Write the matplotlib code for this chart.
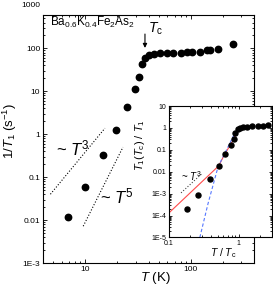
import matplotlib
matplotlib.use("Agg")
import matplotlib.pyplot as plt
import matplotlib.ticker as ticker
import matplotlib.transforms as transforms
import numpy as np

plt.rcParams['font.family'] = 'Liberation Sans'
plt.rcParams['mathtext.fontset'] = 'custom'
plt.rcParams['mathtext.rm'] = 'Liberation Sans'
plt.rcParams['mathtext.it'] = 'Liberation Sans:italic'
plt.rcParams['mathtext.bf'] = 'Liberation Sans:bold'

# main panel: 1/T1 vs T
temp = [6.9, 10.0, 14.8, 19.6, 24.7, 29.6, 32.5, 34.3, 36.8, 40.4, 44.8, 51, 59.8,
        68, 80, 91, 101.6, 122, 141, 151, 181, 250]
rate = [0.0117, 0.058, 0.325, 1.24, 4.2, 11.4, 21.2, 44, 61, 69, 75, 79.5, 79.5,
        79.5, 79.5, 82, 82, 82, 90, 93, 98, 128]

# power law guides
t3_temp = [4.7, 15.4]
t3_rate = [0.04, 1.38]
t5_temp = [9.6, 22.8]
t5_rate = [0.0072, 0.50]

tc = 36.8
main_yticks = [1e-3, 0.01, 0.1, 1, 10, 100]
main_ylabels = ['1E-3', '0.01', '0.1', '1', '10', '100']

# inset: normalised rate vs T/Tc
t_ratio = [0.179, 0.257, 0.385, 0.518, 0.646, 0.786, 0.848, 0.897, 0.977, 1.03,
           1.15, 1.31, 1.57, 1.89, 2.27, 2.68]
norm_rate = [1.96e-4, 8.5e-4, 4.6e-3, 0.0187, 0.064, 0.165, 0.31, 0.565, 0.86, 0.96,
             1.07, 1.13, 1.2, 1.22, 1.26, 1.31]
red_x = [0.1, 0.518, 0.63, 0.786, 0.927, 1.03, 1.1]
red_y = [1.33e-4, 0.0187, 0.064, 0.197, 0.565, 0.96, 1.05]
blue_x = [0.277, 0.364, 0.506, 0.667, 0.877, 1.0]
blue_y = [1e-5, 3.6e-4, 0.0168, 0.0975, 0.565, 1.0]
inset_t3_x = [0.149, 0.299]
inset_t3_y = [1.09e-3, 8.4e-3]

inset_yticks = [1e-5, 1e-4, 1e-3, 0.01, 0.1, 1, 10]
inset_ylabels = ['1E-5', '1E-4', '1E-3', '0.01', '0.1', '1', '10']


def style_log_axes(ax, size, major_len, minor_len):
    ax.set_xscale('log')
    ax.set_yscale('log')
    ax.xaxis.set_minor_locator(ticker.LogLocator(base=10, subs=np.arange(2, 10), numticks=30))
    ax.yaxis.set_minor_locator(ticker.LogLocator(base=10, subs=np.arange(2, 10), numticks=30))
    ax.xaxis.set_minor_formatter(ticker.NullFormatter())
    ax.yaxis.set_minor_formatter(ticker.NullFormatter())
    ax.tick_params(which='both', direction='in', top=True, right=True, labelsize=size, width=0.6)
    ax.tick_params(which='major', length=major_len, pad=2)
    ax.tick_params(which='minor', length=minor_len)
    for sp in ax.spines.values():
        sp.set_linewidth(0.8)


fig = plt.figure(figsize=(2.73, 2.87), dpi=100)
ax = fig.add_axes([0.1575, 0.0836, 0.773, 0.8654])
style_log_axes(ax, 6, 3, 1.6)

ax.plot(temp, rate, 'o', color='black', markersize=4.6, zorder=3)
ax.plot(t3_temp, t3_rate, ':', color='black', lw=0.8)
ax.plot(t5_temp, t5_rate, ':', color='black', lw=0.8)

ax.set_xlim(4, 395)
ax.set_ylim(1e-3, 610)
ax.set_xticks([10, 100], ['10', '100'])
ax.set_yticks(main_yticks, main_ylabels)

# 1000 label sits above the frame
trans = transforms.blended_transform_factory(ax.transAxes, ax.transData)
ax.annotate('1000', xy=(0, 1000), xycoords=trans, xytext=(-2, 0), textcoords='offset points',
            ha='right', va='center', fontsize=6, annotation_clip=False)

ax.set_xlabel('$T$ (K)', fontsize=9.5)
ax.xaxis.set_label_coords(0.53, -0.028)
ax.set_ylabel('1/$T_1$ (s$^{-1}$)', fontsize=9.5)
ax.yaxis.set_label_coords(-0.112, 0.53)

ax.text(0.033, 0.956, 'Ba$_{0.6}$K$_{0.4}$Fe$_2$As$_2$', transform=ax.transAxes,
        fontsize=8.5, ha='left', va='baseline')
ax.annotate('', xy=(tc, 88), xytext=(tc, 250),
            arrowprops=dict(arrowstyle='-|>', color='black', lw=0.8, mutation_scale=6))
ax.text(39.5, 235, '$T_\\mathrm{c}$', fontsize=10, ha='left', va='baseline')
ax.text(7.7, 0.47, '~ $T^3$', fontsize=12, ha='center', va='center')
ax.text(20, 0.036, '~ $T^5$', fontsize=12, ha='center', va='center')

# inset
axin = fig.add_axes([0.619, 0.1725, 0.377, 0.458])
axin.set_zorder(5)
axin.set_facecolor('white')
style_log_axes(axin, 5, 2.5, 1.3)

axin.plot(red_x, red_y, '-', color='#ff4a4a', lw=0.8)
axin.plot(blue_x, blue_y, '--', color='#5577ff', lw=0.8, dashes=(3, 2))
axin.plot(t_ratio, norm_rate, 'o', color='black', markersize=3.6, zorder=3)
axin.plot(inset_t3_x, inset_t3_y, ':', color='#444444', lw=0.8)
axin.text(0.206, 6.3e-3, '~ $T^3$', fontsize=7, ha='center', va='center')

axin.set_xlim(0.1, 3)
axin.set_ylim(1e-5, 10)
axin.set_xticks([0.1, 1], ['0.1', '1'])
axin.set_yticks(inset_yticks, inset_ylabels)
axin.set_xlabel('$T$ / $T_\\mathrm{c}$', fontsize=7.5)
axin.xaxis.set_label_coords(0.53, -0.065)
axin.set_ylabel('$T_1$($T_\\mathrm{c}$) / $T_1$', fontsize=8)
axin.yaxis.set_label_coords(-0.21, 0.70)

fig.savefig('out.png', dpi=100)
